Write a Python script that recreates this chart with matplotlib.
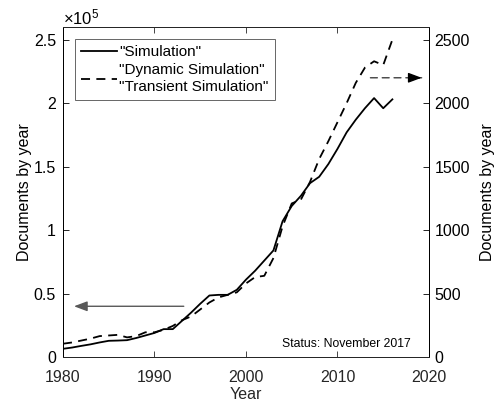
import numpy as np
import matplotlib
matplotlib.use('Agg')
import matplotlib.pyplot as plt
from matplotlib.ticker import FuncFormatter

plt.rcParams['font.family'] = ['Liberation Sans', 'DejaVu Sans']
plt.rcParams['mathtext.fontset'] = 'custom'
plt.rcParams['mathtext.rm'] = 'Liberation Sans'
plt.rcParams['mathtext.it'] = 'Liberation Sans'

# documents per year, 1980-2016
years = np.arange(1980, 2017)
sim = [6500, 7500, 8800, 10000, 11500, 12800, 13000, 13300, 15000, 17000,
       19000, 22000, 22000, 28500, 35000, 42000, 48500, 49000, 49000, 53000,
       61000, 68000, 76000, 84000, 107000, 119000, 127000, 137000, 142000, 152000,
       164000, 177000, 187000, 196000, 204000, 196000, 203000]
dyn_trans = [105, 115, 130, 145, 165, 170, 175, 155, 165, 195,
             195, 215, 245, 290, 320, 375, 430, 470, 490, 510,
             580, 630, 640, 780, 1030, 1210, 1240, 1380, 1560, 1700,
             1850, 2000, 2160, 2280, 2330, 2300, 2500]

labels = ['"Simulation"', '"Dynamic Simulation"\n"Transient Simulation"']
status = 'Status: November 2017'

fig = plt.figure(figsize=(4.98, 4.09), dpi=100)
ax = fig.add_axes([0.1265, 0.127, 0.7349, 0.807])
ax2 = ax.twinx()

l1, = ax.plot(years, sim, color='k', lw=1.3)
l2, = ax2.plot(years, dyn_trans, color='k', lw=1.3, ls=(0, (5, 3.5)))

ax.set_xlim(1980, 2020)
ax.set_ylim(0, 2.6e5)
ax2.set_ylim(0, 2600)
ax.set_xticks([1980, 1990, 2000, 2010, 2020])
ax.set_yticks(np.arange(0, 2.51e5, 0.5e5))
ax2.set_yticks(np.arange(0, 2501, 500))
ax.yaxis.set_major_formatter(FuncFormatter(lambda v, p: f'{v / 1e5:g}'))

gray = '#262626'
for a in (ax, ax2):
    a.tick_params(direction='in', length=4, width=0.6, labelsize=11.5)
    a.spines['bottom'].set_color(gray)
    a.spines['top'].set_color(gray)
    for s in a.spines.values():
        s.set_linewidth(0.7)
ax.tick_params(axis='x', colors=gray, top=True, labelcolor=gray, pad=9)
ax.tick_params(axis='y', colors='k', pad=5)
ax2.tick_params(axis='y', colors='k', pad=4)

ax.set_xlabel('Year', fontsize=11.5, color=gray, labelpad=2)
ax.set_ylabel('Documents by year', fontsize=11.5, labelpad=1)
ax2.set_ylabel('Documents by year', fontsize=11.5, labelpad=7)

ax.text(0.0, 1.0, r'$\times10^{5}$', transform=ax.transAxes,
        ha='left', va='bottom', fontsize=12)

# arrows pointing to the axis each curve belongs to
ax.annotate('', xy=(1981.2, 0.4e5), xytext=(1993.2, 0.4e5),
            arrowprops=dict(arrowstyle='-|>,head_length=0.8,head_width=0.3',
                            color='0.35', lw=1.0, shrinkA=0, shrinkB=0))
ax.annotate('', xy=(2019.2, 2.2e5), xytext=(2013.6, 2.2e5),
            arrowprops=dict(arrowstyle='-', color='0.25', lw=1.0, ls=(0, (5, 3.5)),
                            shrinkA=0, shrinkB=0))
ax.annotate('', xy=(2019.2, 2.2e5), xytext=(2018.3, 2.2e5),
            arrowprops=dict(arrowstyle='-|>,head_length=0.8,head_width=0.3',
                            color='k', lw=1.0, shrinkA=0, shrinkB=0))

ax.text(2018.0, 0.1e5, status, ha='right', va='center', fontsize=8.8, color='k')

leg = ax.legend([l1, l2], labels, loc='upper left', bbox_to_anchor=(0.033, 0.964),
                fontsize=11, handlelength=2.35, handletextpad=0.15,
                borderpad=0.4, labelspacing=0.25, fancybox=False,
                framealpha=1, edgecolor='0.4', borderaxespad=0)
leg.get_frame().set_linewidth(0.7)
for t in leg.get_texts():
    t.set_linespacing(1.3)

fig.savefig('out.png', dpi=100)
